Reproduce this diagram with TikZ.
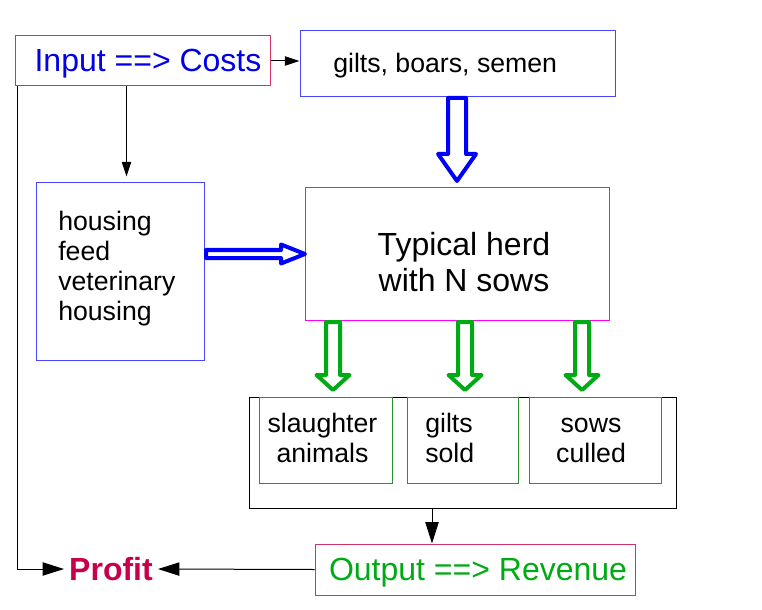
\documentclass[tikz,border=0pt]{standalone}
\usepackage{fontspec}
\setmainfont{Liberation Sans}
\usetikzlibrary{arrows.meta,calc}
\definecolor{crim}{RGB}{210,50,100}
\definecolor{crimtext}{RGB}{200,0,75}
\definecolor{bluetext}{RGB}{0,0,235}
\definecolor{blueline}{RGB}{70,70,255}
\definecolor{mag}{RGB}{255,0,255}
\definecolor{grn}{RGB}{0,170,20}
\definecolor{grnline}{RGB}{40,145,40}
\tikzset{
  box/.style={draw=#1, line width=0.75pt, inner sep=0pt, fill=white},
  txt/.style={inner sep=0pt, font=\fontsize{20}{22.5}\selectfont},
  bigtxt/.style={inner sep=0pt, font=\fontsize{24}{27}\selectfont},
  smallarrow/.style={line width=0.75pt, -{Triangle[length=11pt,width=7pt]}},
  largearrow/.style={line width=0.75pt, -{Triangle[length=16pt,width=10pt]}},
  blockarrow/.style={draw=#1, fill=white, line width=3pt, line join=round},
}
\begin{document}
\begin{tikzpicture}[x=0.75pt,y=-0.75pt]
\useasboundingbox (0,0) rectangle (762,609);
% boxes
\node[box=crim, minimum width=191.25pt, minimum height=37.5pt] (in) at (142.5,61) {};
\node[box=blueline, minimum width=236.25pt, minimum height=49.5pt] (gb) at (457.5,64) {};
\node[box=blueline, minimum width=126pt, minimum height=132.75pt] (hb) at (120,271.5) {};
\node[box=mag, minimum width=228pt, minimum height=99pt] (herd) at (457,254) {};
\node[box=black, minimum width=320.25pt, minimum height=83.25pt] (ob) at (462.5,452.5) {};
\node[box=grnline, minimum width=99.75pt, minimum height=64.5pt] (s1) at (325.5,440) {};
\node[box=grnline, minimum width=83.25pt, minimum height=64.5pt] (s2) at (462.5,440) {};
\node[box=grnline, minimum width=99pt, minimum height=64.5pt] (s3) at (595,440) {};
\node[box=crim, minimum width=240pt, minimum height=38.25pt] (op) at (475,569.5) {};
% texts
\node[bigtxt, text=bluetext] (tin) at (148,64) {Input ==> Costs};
\node[txt, anchor=west] (tgb) at (333,66) {gilts, boars, semen};
\node[txt, anchor=west, align=left] (thb) at (58,269) {housing\\feed\\veterinary\\housing};
\node[bigtxt, align=center] (therd) at (464,262) {Typical herd\\with N sows};
\node[txt, align=center] (ts1) at (322.5,438) {slaughter\\animals};
\node[txt, align=left, anchor=west] (ts2) at (425,438) {gilts\\sold};
\node[txt, align=center] (ts3) at (591,440) {sows\\culled};
\node[bigtxt, text=grn] (top) at (478,573) {Output ==> Revenue};
\node[bigtxt, text=crimtext, font=\fontsize{24}{27}\selectfont\bfseries, inner sep=3.75pt] (pr) at (111,569) {Profit};
% thin connectors
\draw[smallarrow] (in.east) -- (in.east -| gb.west);
\coordinate (c1) at ($(in.south west)+(112,0)$);
\draw[smallarrow, shorten >=4.5pt] (c1) -- (c1 |- hb.north);
\coordinate (c2) at ($(ob.south)+(-30.5,0)$);
\draw[largearrow] (c2) -- (c2 |- op.north);
\draw[largearrow] (op.west) -- (pr.east);
\coordinate (c3) at ($(in.south west)+(3,0)$);
\draw[largearrow] (c3) |- (pr.west);
% block arrows
\draw[blockarrow=blue] (448,98) -- (466,98) -- (466,154) -- (476,154) -- (457,181) -- (438,154) -- (448,154) -- cycle;
\draw[blockarrow=blue] (206,250) -- (281,250) -- (281,244.5) -- (305,254) -- (281,263.5) -- (281,258) -- (206,258) -- cycle;
\foreach \xc/\nm in {333/g1,465/g2,582/g3}{
  \draw[blockarrow=grn] (\xc-7,322) -- (\xc+7,322) -- (\xc+7,375) -- (\xc+16.5,375) -- (\xc,390) -- (\xc-16.5,375) -- (\xc-7,375) -- cycle;
}
\end{tikzpicture}
\end{document}
